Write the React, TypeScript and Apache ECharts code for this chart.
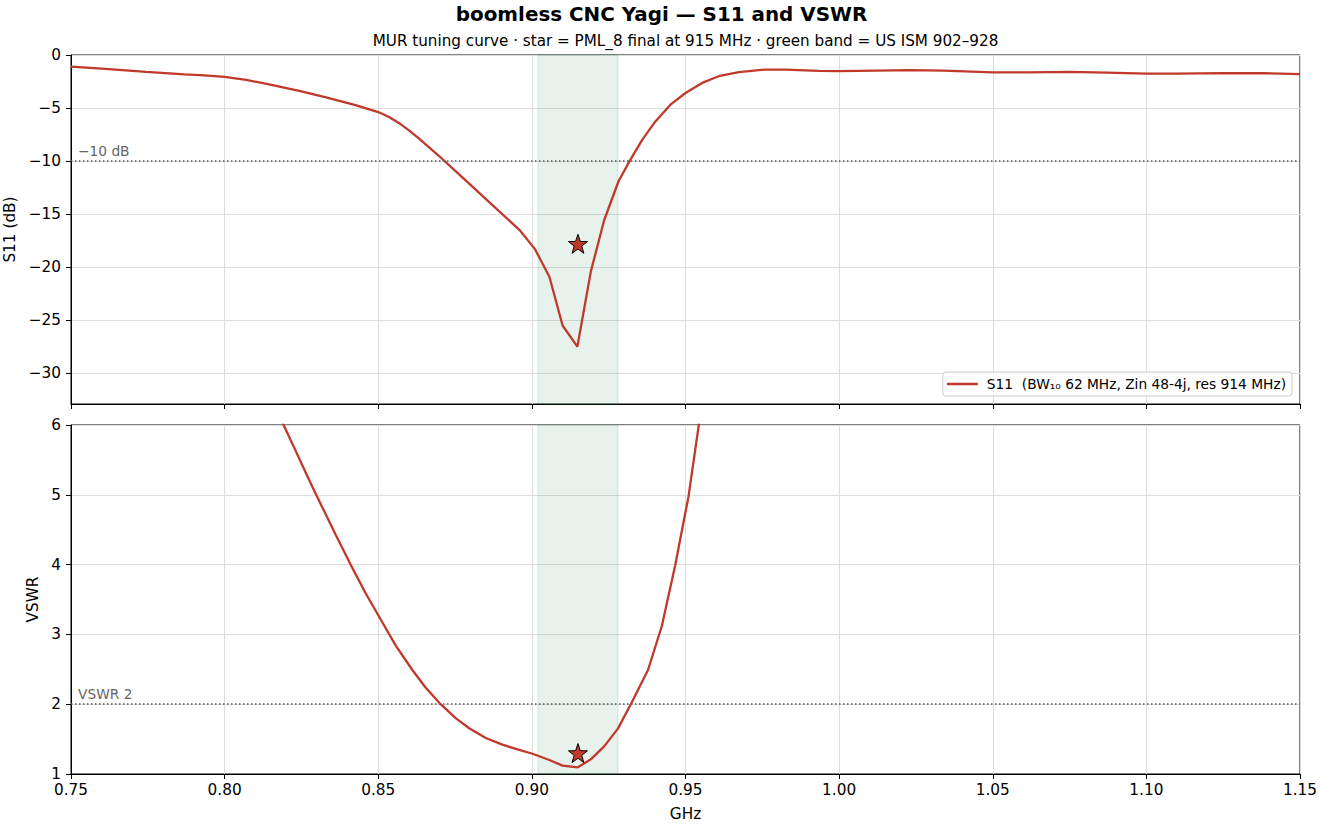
import React, { useEffect, useRef } from "react";
import * as echarts from "echarts";

const FONT = "'DejaVu Sans', 'Liberation Sans', sans-serif";
const RED = "#c0392b";

// S11 curve (GHz, dB)
const s11Freq = [
  0.75, 0.76, 0.7745, 0.787, 0.7935, 0.8, 0.807, 0.8133, 0.8243, 0.833, 0.8426,
  0.85, 0.8535, 0.8567, 0.86, 0.8632, 0.8697, 0.878, 0.887, 0.896, 0.901, 0.9057,
  0.91, 0.9148, 0.9192, 0.9235, 0.9282, 0.9318, 0.9359, 0.9402, 0.9451, 0.95,
  0.9554, 0.9608, 0.9674, 0.976, 0.9825, 0.9934, 1.0, 1.012, 1.023, 1.034, 1.05,
  1.062, 1.075, 1.087, 1.1, 1.11, 1.125, 1.138, 1.15,
];
const s11Db = [
  -1.1, -1.28, -1.6, -1.82, -1.93, -2.07, -2.35, -2.7, -3.38, -4.0, -4.72,
  -5.38, -5.85, -6.4, -7.1, -7.85, -9.5, -11.7, -14.1, -16.5, -18.3, -20.9,
  -25.5, -27.5, -20.4, -15.6, -11.9, -10.0, -8.0, -6.26, -4.68, -3.58, -2.63,
  -2.0, -1.62, -1.37, -1.37, -1.5, -1.52, -1.47, -1.42, -1.48, -1.64, -1.64,
  -1.6, -1.66, -1.76, -1.76, -1.7, -1.72, -1.8,
];

// VSWR curve (GHz, ratio)
const vswrFreq = [
  0.8165, 0.8192, 0.8225, 0.8252, 0.8285, 0.8317, 0.8361, 0.841, 0.8459, 0.8502,
  0.8557, 0.8611, 0.8654, 0.8703, 0.8752, 0.8796, 0.885, 0.8904, 0.8959, 0.9002,
  0.9057, 0.91, 0.9149, 0.9192, 0.9236, 0.928, 0.9322, 0.9378, 0.9423, 0.9466,
  0.951, 0.9553,
];
const vswrVal = [
  6.26, 6.0, 5.69, 5.43, 5.12, 4.83, 4.43, 4.0, 3.59, 3.26, 2.84, 2.49, 2.24,
  2.0, 1.8, 1.655, 1.515, 1.42, 1.345, 1.29, 1.2, 1.12, 1.095, 1.21, 1.4, 1.65,
  2.0, 2.49, 3.12, 3.98, 4.98, 6.3,
];

const ismBand = [0.902, 0.928];
const starFreq = 0.915;
const starS11 = -17.8;
const starVswr = 1.3;
const s11Ticks = [-30, -25, -20, -15, -10, -5, 0];
const s11Ref = -10;
const vswrRef = 2;

const s11Name = "S11  (BW\u2081\u2080 62 MHz, Zin 48-4j, res 914 MHz)";
const titleText = "boomless CNC Yagi \u2014 S11 and VSWR";
const subText =
  "MUR tuning curve \u00b7 star = PML_8 final at 915 MHz \u00b7 green band = US ISM 902\u2013928";

const STAR =
  "path://M0,-10 L2.35,-3.24 L9.51,-3.09 L3.8,1.24 L5.88,8.09 L0,4 L-5.88,8.09 L-3.8,1.24 L-9.51,-3.09 L-2.35,-3.24 Z";

const TICK_FS = 15.3;
const fmtNum = (v: number) => (v < 0 ? "\u2212" + Math.abs(v) : String(v));

function xAxisBase(gridIndex: number, showLabels: boolean) {
  return {
    type: "value",
    gridIndex,
    min: 0.75,
    max: 1.15,
    interval: 0.05,
    axisLine: { show: true, onZero: false, lineStyle: { color: "#000", width: 1 } },
    axisTick: { show: true, length: 5, lineStyle: { color: "#000", width: 1 } },
    axisLabel: {
      show: showLabels,
      color: "#000",
      fontSize: TICK_FS,
      fontFamily: FONT,
      margin: 8,
      formatter: (v: number) => v.toFixed(2),
    },
    splitLine: { show: true, lineStyle: { color: "#dddddd", width: 1 } },
    name: showLabels ? "GHz" : "",
    nameLocation: "middle",
    nameGap: 32,
    nameTextStyle: { color: "#000", fontSize: TICK_FS, fontFamily: FONT },
  };
}

const gridBase = {
  left: 71,
  width: 1229,
  height: 349,
  show: true,
  borderColor: "#000",
  borderWidth: 1,
  backgroundColor: "transparent",
  containLabel: false,
  outerBoundsMode: "none",
};

export default function App() {
  const ref = useRef<HTMLDivElement>(null);
  useEffect(() => {
    if (!ref.current) return;
    const chart = echarts.init(ref.current, undefined, { renderer: "svg" });
    const bandArea = {
      silent: true,
      itemStyle: {
        color: "rgba(46,139,87,0.11)",
        borderColor: "rgba(46,139,87,0.18)",
        borderWidth: 1,
      },
      data: [[{ xAxis: ismBand[0] }, { xAxis: ismBand[1] }]],
    };
    const refLine = (y: number, text: string) => ({
      silent: true,
      symbol: ["none", "none"],
      lineStyle: { color: "#555", type: [1.5, 2.5], width: 1.5 },
      label: {
        show: true,
        position: "insideStartTop",
        formatter: text,
        color: "#666",
        fontSize: 13.75,
        fontFamily: FONT,
        distance: [7, 3],
      },
      data: [{ yAxis: y }],
    });
    const option = {
      animation: false,
      backgroundColor: "#fff",
      textStyle: { fontFamily: FONT },
      graphic: [
        {
          type: "text",
          x: 661.5,
          y: 14,
          style: {
            text: titleText,
            fill: "#000",
            font: `bold 19.9px ${FONT}`,
            align: "center",
            verticalAlign: "middle",
            textAlign: "center",
            textVerticalAlign: "middle",
          },
        },
        {
          type: "text",
          x: 685.5,
          y: 41,
          style: {
            text: subText,
            fill: "#000",
            font: `15.2px ${FONT}`,
            align: "center",
            verticalAlign: "middle",
            textAlign: "center",
            textVerticalAlign: "middle",
          },
        },
      ],
      legend: {
        data: [s11Name],
        right: 30,
        top: 372,
        icon: "rect",
        itemWidth: 31,
        itemHeight: 2.5,
        padding: [5, 6, 5, 4],
        borderColor: "#cccccc",
        borderWidth: 1,
        borderRadius: 3,
        backgroundColor: "rgba(255,255,255,0.85)",
        textStyle: { color: "#000", fontSize: 13.75, fontFamily: FONT, padding: [0, 0, 0, 4] },
      },
      grid: [
        { ...gridBase, top: 55 },
        { ...gridBase, top: 425 },
      ],
      xAxis: [xAxisBase(0, false), xAxisBase(1, true)],
      yAxis: [
        {
          type: "value",
          gridIndex: 0,
          min: -32.9,
          max: 0,
          splitNumber: 7,
          axisLine: { show: true, lineStyle: { color: "#000", width: 1 } },
          axisTick: { show: true, length: 5, customValues: s11Ticks, lineStyle: { color: "#000" } },
          axisLabel: {
            color: "#000",
            fontSize: TICK_FS,
            fontFamily: FONT,
            margin: 10,
            customValues: s11Ticks,
            formatter: (v: number) => (Math.abs(v % 5) < 1e-6 ? fmtNum(v) : ""),
          },
          splitLine: { show: true, lineStyle: { color: "#dddddd", width: 1 } },
          name: "S11 (dB)",
          nameLocation: "middle",
          nameRotate: 90,
          nameGap: 48,
          nameTextStyle: { color: "#000", fontSize: TICK_FS, fontFamily: FONT },
        },
        {
          type: "value",
          gridIndex: 1,
          min: 1,
          max: 6,
          interval: 1,
          axisLine: { show: true, lineStyle: { color: "#000", width: 1 } },
          axisTick: { show: true, length: 5, lineStyle: { color: "#000" } },
          axisLabel: { color: "#000", fontSize: TICK_FS, fontFamily: FONT, margin: 10 },
          splitLine: { show: true, lineStyle: { color: "#dddddd", width: 1 } },
          name: "VSWR",
          nameLocation: "middle",
          nameRotate: 90,
          nameGap: 26.5,
          nameTextStyle: { color: "#000", fontSize: TICK_FS, fontFamily: FONT },
        },
      ],
      series: [
        {
          type: "line",
          name: "band-top",
          xAxisIndex: 0,
          yAxisIndex: 0,
          data: [],
          z: 1,
          markArea: bandArea,
          markLine: refLine(s11Ref, "\u221210 dB"),
        },
        {
          type: "line",
          name: "band-bottom",
          xAxisIndex: 1,
          yAxisIndex: 1,
          data: [],
          z: 1,
          markArea: bandArea,
          markLine: refLine(vswrRef, "VSWR 2"),
        },
        {
          type: "line",
          name: s11Name,
          xAxisIndex: 0,
          yAxisIndex: 0,
          data: s11Freq.map((f, i) => [f, s11Db[i]]),
          showSymbol: false,
          symbol: "none",
          color: RED,
          lineStyle: { color: RED, width: 2.3 },
          z: 3,
          clip: true,
        },
        {
          type: "line",
          name: "VSWR",
          xAxisIndex: 1,
          yAxisIndex: 1,
          data: vswrFreq.map((f, i) => [f, vswrVal[i]]),
          showSymbol: false,
          symbol: "none",
          color: RED,
          lineStyle: { color: RED, width: 2.3 },
          z: 3,
          clip: true,
        },
        {
          type: "scatter",
          name: "star-top",
          xAxisIndex: 0,
          yAxisIndex: 0,
          data: [[starFreq, starS11]],
          symbol: STAR,
          symbolSize: 19,
          itemStyle: { color: RED, borderColor: "#000", borderWidth: 1, opacity: 1 },
          z: 5,
        },
        {
          type: "scatter",
          name: "star-bottom",
          xAxisIndex: 1,
          yAxisIndex: 1,
          data: [[starFreq, starVswr]],
          symbol: STAR,
          symbolSize: 19,
          itemStyle: { color: RED, borderColor: "#000", borderWidth: 1, opacity: 1 },
          z: 5,
        },
      ],
    };
    chart.setOption(option as any);
    return () => chart.dispose();
  }, []);
  return (
    <div
      ref={ref}
      style={{ position: "fixed", left: 0, top: 0, width: 1322, height: 828, background: "#fff" }}
    />
  );
}
